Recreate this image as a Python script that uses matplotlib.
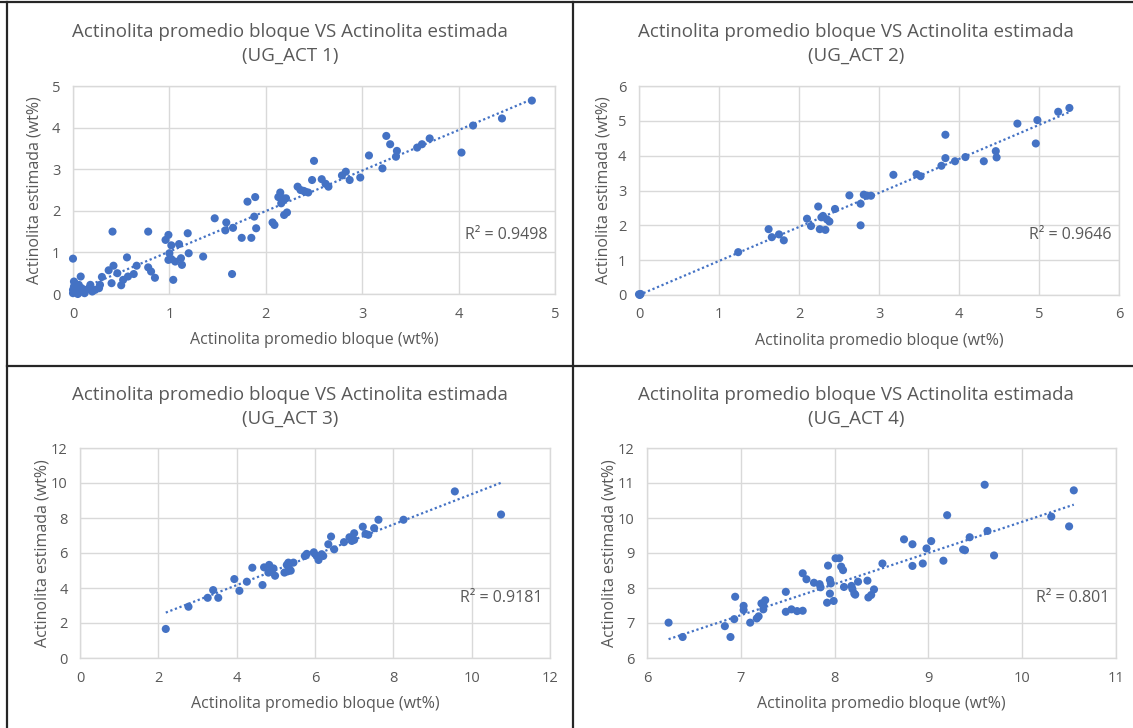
import numpy as np
import matplotlib
matplotlib.use("Agg")
import matplotlib.pyplot as plt
from matplotlib.lines import Line2D

plt.rcParams["font.family"] = ["Open Sans", "DejaVu Sans"]

# ---- data -------------------------------------------------------------
act1_x = [0.00, 0.01, 0.00, 0.02, 0.03, 0.01, 0.05, 0.06, 0.08, 0.09, 0.08, 0.11,
          0.14, 0.18, 0.20, 0.23, 0.27, 0.28, 0.30, 0.04, 0.12, 0.16, 0.00, 0.02,
          0.41, 0.37, 0.42, 0.46, 0.40, 0.50, 0.52, 0.57, 0.56, 0.63, 0.66, 0.78,
          0.78, 0.81, 0.85, 0.96, 0.99, 1.02, 1.00, 0.99, 1.02, 1.06, 1.04, 1.10,
          1.12, 1.13, 1.19, 1.20, 1.35, 1.47, 1.59, 1.58, 1.66, 1.65, 1.75, 1.81,
          1.85, 1.89, 1.88, 1.90, 2.07, 2.09, 2.13, 2.15, 2.16, 2.18, 2.21, 2.19,
          2.22, 2.33, 2.39, 2.44, 2.36, 2.41, 2.50, 2.48, 2.58, 2.62, 2.65, 2.79,
          2.83, 2.87, 2.98, 3.07, 3.21, 3.25, 3.29, 3.36, 3.35, 3.57, 3.62, 3.70,
          4.03, 4.15, 4.45, 4.76]
act1_y = [0.85, 0.30, 0.02, 0.05, 0.12, 0.18, 0.00, 0.22, 0.06, 0.14, 0.42, 0.06,
          0.10, 0.22, 0.06, 0.10, 0.14, 0.22, 0.41, 0.08, 0.02, 0.12, 0.10, 0.25,
          1.50, 0.57, 0.68, 0.50, 0.26, 0.21, 0.34, 0.42, 0.88, 0.48, 0.68, 1.50,
          0.64, 0.54, 0.39, 1.30, 1.42, 1.17, 0.98, 0.82, 0.84, 0.78, 0.34, 1.20,
          0.86, 0.70, 1.46, 0.98, 0.90, 1.82, 1.72, 1.53, 1.59, 0.48, 1.35, 2.22,
          1.35, 2.33, 1.86, 1.58, 1.72, 1.66, 2.33, 2.44, 2.18, 2.30, 2.30, 1.90,
          1.96, 2.58, 2.48, 2.44, 2.50, 2.46, 3.20, 2.74, 2.76, 2.65, 2.58, 2.85,
          2.94, 2.74, 2.80, 3.33, 3.02, 3.80, 3.60, 3.44, 3.30, 3.52, 3.60, 3.74,
          3.40, 4.05, 4.22, 4.65]

act2_x = [0.00, 0.01, 0.02, 1.24, 1.62, 1.66, 1.75, 1.81, 2.10, 2.15, 2.24, 2.26,
          2.28, 2.30, 2.33, 2.35, 2.38, 2.45, 2.63, 2.77, 2.77, 2.81, 2.85, 2.90,
          3.18, 3.47, 3.52, 3.78, 3.83, 3.83, 3.95, 4.08, 4.31, 4.46, 4.47, 4.73,
          4.96, 4.98, 5.24, 5.38]
act2_y = [0.02, 0.00, 0.03, 1.23, 1.89, 1.66, 1.74, 1.57, 2.19, 1.98, 2.54, 1.89,
          2.23, 2.27, 1.87, 2.17, 2.11, 2.47, 2.86, 2.62, 2.00, 2.88, 2.85, 2.85,
          3.45, 3.47, 3.41, 3.71, 4.60, 3.93, 3.84, 3.96, 3.84, 4.13, 3.95, 4.92,
          4.35, 5.02, 5.26, 5.37]

act3_x = [2.19, 2.77, 3.26, 3.40, 3.53, 3.94, 4.07, 4.26, 4.40, 4.66, 4.70, 4.83,
          4.81, 4.94, 4.98, 4.90, 5.22, 5.28, 5.34, 5.38, 5.45, 5.32, 5.30, 5.74,
          5.79, 5.97, 6.04, 6.09, 6.17, 6.21, 6.34, 6.41, 6.49, 6.74, 6.88, 6.94,
          7.00, 7.00, 7.22, 7.29, 7.36, 7.51, 7.62, 8.26, 9.57, 10.75]
act3_y = [1.66, 2.93, 3.44, 3.88, 3.44, 4.51, 3.84, 4.36, 5.16, 4.17, 5.18, 5.32,
          4.88, 5.12, 4.70, 5.05, 4.88, 5.32, 5.12, 4.99, 5.45, 5.45, 4.95, 5.83,
          5.95, 6.04, 5.83, 5.60, 5.93, 5.83, 6.50, 6.94, 6.21, 6.62, 6.90, 6.69,
          6.75, 7.13, 7.50, 7.09, 7.04, 7.42, 7.90, 7.90, 9.52, 8.20]

act4_x = [6.23, 6.38, 6.83, 6.89, 6.93, 6.94, 7.03, 7.03, 7.10, 7.17, 7.19, 7.22,
          7.24, 7.26, 7.24, 7.48, 7.48, 7.54, 7.60, 7.66, 7.66, 7.70, 7.78, 7.84,
          7.85, 7.93, 7.95, 7.96, 7.95, 7.92, 7.99, 8.01, 8.05, 8.07, 8.09, 8.10,
          8.18, 8.19, 8.21, 8.22, 8.25, 8.35, 8.36, 8.39, 8.42, 8.51, 8.74, 8.83,
          8.83, 8.94, 8.98, 9.03, 9.16, 9.20, 9.37, 9.39, 9.44, 9.60, 9.63, 9.70,
          10.31, 10.50, 10.55]
act4_y = [7.01, 6.60, 6.91, 6.60, 7.11, 7.75, 7.49, 7.37, 7.01, 7.13, 7.19, 7.56,
          7.39, 7.65, 7.51, 7.89, 7.32, 7.39, 7.34, 7.35, 8.42, 8.25, 8.15, 8.11,
          8.02, 8.64, 8.23, 8.13, 7.84, 7.58, 7.63, 8.85, 8.85, 8.61, 8.51, 8.03,
          8.06, 7.97, 7.84, 7.81, 8.18, 8.21, 7.73, 7.80, 7.96, 8.70, 9.39, 9.25,
          8.63, 8.70, 9.13, 9.34, 8.78, 10.08, 9.10, 9.08, 9.45, 10.95, 9.63, 8.93,
          10.04, 9.76, 10.79]

panel_titles = ["Actinolita promedio bloque VS Actinolita estimada\n(UG_ACT 1)",
                "Actinolita promedio bloque VS Actinolita estimada\n(UG_ACT 2)",
                "Actinolita promedio bloque VS Actinolita estimada\n(UG_ACT 3)",
                "Actinolita promedio bloque VS Actinolita estimada\n(UG_ACT 4)"]
r2_labels = ["R² = 0.9498", "R² = 0.9646", "R² = 0.9181", "R² = 0.801"]
x_ticks = [[0, 1, 2, 3, 4, 5], [0, 1, 2, 3, 4, 5, 6],
           [0, 2, 4, 6, 8, 10, 12], [6, 7, 8, 9, 10, 11]]
y_ticks = [[0, 1, 2, 3, 4, 5], [0, 1, 2, 3, 4, 5, 6],
           [0, 2, 4, 6, 8, 10, 12], [6, 7, 8, 9, 10, 11, 12]]
x_label = "Actinolita promedio bloque (wt%)"
y_label = "Actinolita estimada (wt%)"

# ---- layout -----------------------------------------------------------
W, H = 1133, 728
BLUE = "#4472C4"
GRID = "#D9D9D9"
TXT = "#595959"

fig = plt.figure(figsize=(W / 100, H / 100), dpi=100)

# plot-area boxes in pixels: left, right, top, bottom
boxes = [(73, 555, 86, 294), (639, 1119, 86, 295),
         (80, 550, 448, 658), (647, 1116, 448, 658)]
title_pos = [(290, 44), (856, 44), (290, 407), (856, 407)]
ylabel_x = [35, 604, 43, 609]

data = [(act1_x, act1_y), (act2_x, act2_y), (act3_x, act3_y), (act4_x, act4_y)]

for i, (l, r, t, b) in enumerate(boxes):
    ax = fig.add_axes([l / W, 1 - b / H, (r - l) / W, (b - t) / H])
    xs, ys = np.array(data[i][0]), np.array(data[i][1])
    xt, yt = x_ticks[i], y_ticks[i]
    ax.set_xlim(xt[0], xt[-1])
    ax.set_ylim(yt[0], yt[-1])
    ax.set_xticks(xt)
    ax.set_yticks(yt)
    ax.grid(True, color=GRID, linewidth=1.0)
    ax.set_axisbelow(True)
    for s in ax.spines.values():
        s.set_color(GRID)
        s.set_linewidth(1.0)
    ax.tick_params(length=0, labelsize=10.5, colors=TXT, pad=9)

    # linear trend line over the data range
    k, c = np.polyfit(xs, ys, 1)
    tx = np.array([xs.min(), xs.max()])
    ax.plot(tx, k * tx + c, linestyle=(0, (1, 1.2)), color=BLUE, linewidth=1.6,
            zorder=2)
    ax.scatter(xs, ys, s=34, color=BLUE, edgecolors="none", zorder=3,
               clip_on=False)

    ax.text(0.985, 0.285, r2_labels[i], transform=ax.transAxes, ha="right",
            va="center", fontsize=11.5, color=TXT)

    cx = (l + r) / 2
    fig.text(cx / W, 1 - (b + 46) / H, x_label, ha="center", va="center",
             fontsize=11.5, color=TXT)
    fig.text(ylabel_x[i] / W, 1 - ((t + b) / 2) / H, y_label, ha="center",
             va="center", rotation=90, fontsize=11.5, color=TXT)
    tx_, ty_ = title_pos[i]
    fig.text(tx_ / W, 1 - ty_ / H, panel_titles[i], ha="center", va="center",
             fontsize=13.5, color=TXT, linespacing=1.45)

# panel frame lines
frame = dict(color="#262626", linewidth=1.6, transform=fig.transFigure)
fig.add_artist(Line2D([0, 1], [1 - 2 / H, 1 - 2 / H], **frame))
fig.add_artist(Line2D([7 / W, 7 / W], [0, 1 - 2 / H], **frame))
fig.add_artist(Line2D([573 / W, 573 / W], [0, 1 - 2 / H], **frame))
fig.add_artist(Line2D([7 / W, 1], [1 - 366 / H, 1 - 366 / H], **frame))

fig.savefig("out.png", dpi=100)
